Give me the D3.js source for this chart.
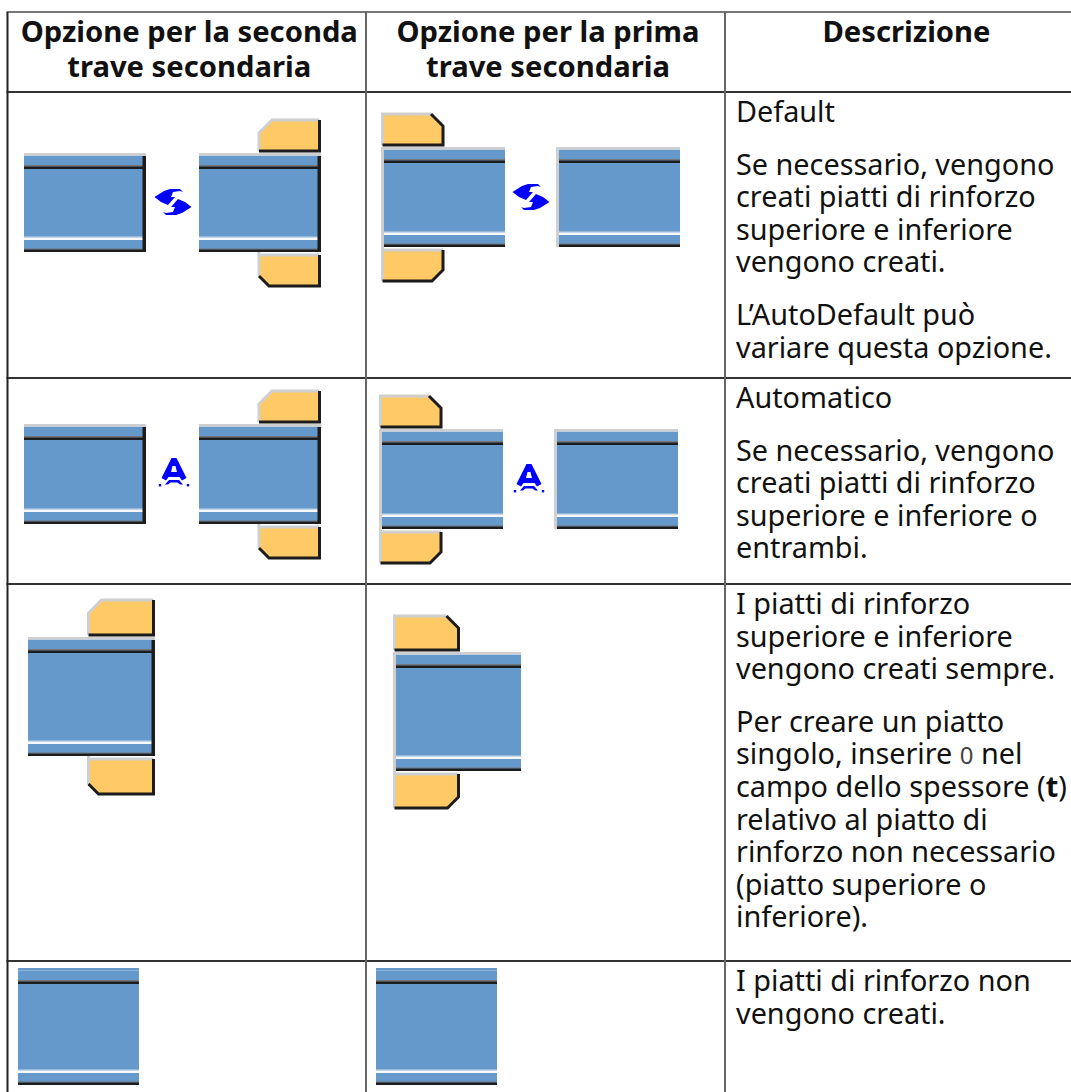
<!DOCTYPE html>
<html>
<head>
<meta charset="utf-8">
<script src="https://cdnjs.cloudflare.com/ajax/libs/d3/7.8.5/d3.min.js"></script>
<style>
  html, body { margin: 0; padding: 0; background: #fff; overflow: hidden; }
  svg { display: block; }
  text { font-family: "Noto Sans", sans-serif; fill: #111; }
</style>
</head>
<body>
<div id="my_dataviz"></div>
<script>
// table content
var headers = [
  ["Opzione per la seconda", "trave secondaria"],
  ["Opzione per la prima", "trave secondaria"],
  ["Descrizione"]
];
// *x* marks bold, `x` marks code
var descDefault = [
  ["Default"],
  ["Se necessario, vengono", "creati piatti di rinforzo", "superiore e inferiore", "vengono creati."],
  ["L\u2019AutoDefault può", "variare questa opzione."]
];
var descAuto = [
  ["Automatico"],
  ["Se necessario, vengono", "creati piatti di rinforzo", "superiore e inferiore o", "entrambi."]
];
var descAlways = [
  ["I piatti di rinforzo", "superiore e inferiore", "vengono creati sempre."],
  ["Per creare un piatto", "singolo, inserire `0` nel", "campo dello spessore (*t*)", "relativo al piatto di", "rinforzo non necessario", "(piatto superiore o", "inferiore)."]
];
var descNever = [
  ["I piatti di rinforzo non", "vengono creati."]
];
var descriptions = [descDefault, descAuto, descAlways, descNever];

// layout
var W = 1071, H = 1092;
var col = d3.scaleLinear().domain([0, 1, 2, 3]).range([7.5, 366, 725, 1083]);
var row = d3.scaleLinear().domain([0, 1, 2, 3, 4, 5]).range([12, 92, 378, 584, 961, 1110]);

var svg = d3.select("#my_dataviz").append("svg")
  .attr("width", W)
  .attr("height", H);

var defs = svg.append("defs");
defs.append("filter").attr("id", "soft")
  .attr("x", "-5%").attr("y", "-5%").attr("width", "110%").attr("height", "110%")
  .append("feGaussianBlur").attr("stdDeviation", 0.45);

// grid
d3.range(0, 6).forEach(function(i) {
  svg.append("line")
    .attr("x1", col(0) - 1).attr("x2", W)
    .attr("y1", row(i)).attr("y2", row(i))
    .attr("stroke", i == 0 ? "#777" : "#333")
    .attr("stroke-width", 2);
});
d3.range(0, 3).forEach(function(i) {
  svg.append("line")
    .attr("x1", col(i)).attr("x2", col(i))
    .attr("y1", row(0)).attr("y2", H)
    .attr("stroke", i == 0 ? "#222" : "#666")
    .attr("stroke-width", 2);
});

// headers
headers.forEach(function(lines, c) {
  lines.forEach(function(t, i) {
    svg.append("text")
      .attr("x", (col(c) + col(c + 1)) / 2 + 2.5)
      .attr("y", 42 + i * 35)
      .attr("text-anchor", "middle")
      .attr("font-size", 29.2)
      .attr("font-weight", 700)
      .text(t);
  });
});

// descriptions
var lineH = 32.6, paraGap = 20;
descriptions.forEach(function(paras, r) {
  var y = row(r + 1) + 30;
  paras.forEach(function(lines) {
    lines.forEach(function(t) {
      var txt = svg.append("text").attr("x", 736).attr("y", y).attr("font-size", 28.8);
      t.split(/(\*[^*]+\*|`[^`]+`)/).forEach(function(s) {
        if (!s) return;
        if (s[0] == "*") {
          txt.append("tspan").attr("font-weight", 700).text(s.slice(1, -1));
        } else if (s[0] == "`") {
          txt.append("tspan").attr("font-size", 24).attr("fill", "#444").text(s.slice(1, -1));
        } else {
          txt.append("tspan").text(s);
        }
      });
      y += lineH;
    });
    y += paraGap;
  });
});

// beam drawing
var blue = "#6598cb", yellow = "#ffc966", dark = "#1c1c1c", light = "#cfcfcf";

function beam(g, x, y, w, h, hand) {
  var mid = g.append("g");
  function bar(bx, by, bw, bh, fill) {
    mid.append("rect").attr("x", bx).attr("y", by).attr("width", bw).attr("height", bh).attr("fill", fill);
  }
  bar(x, y + 2.5, w, h - 2.5, blue);
  // flange lines
  bar(x, y + 12, w, 1.5, "#777");
  bar(x, y + 13.5, w, 2.5, dark);
  bar(x, y + h - 15.5, w, 1, "#c4d6e8");
  bar(x, y + h - 14.5, w, 2.5, "#f6f8fa");
  bar(x, y + h - 3.5, w, 1, "#777");
  bar(x, y + h - 2.5, w, 2.5, dark);
  if (hand == "left") {
    bar(x, y, w, 2.5, light);
    bar(x + w - 3.5, y + 3, 3.5, h - 3, dark);
  } else if (hand == "right") {
    bar(x, y, w, 2.5, light);
    bar(x - 3, y, 3, h, light);
  } else {
    bar(x, y, w, 2.5, blue);
  }
}

function plate(g, x, y, w, h, corner, c) {
  var r = x + w, b = y + h;
  var lit = [], shade = [];
  if (corner == "bl") {
    shade = [[r, y], [r, b], [x + c, b], [x, b - c]];
    lit = [[x, b - c]];
  } else if (corner == "br") {
    shade = [[r, y], [r, b - c], [r - c, b], [x, b]];
    lit = [[x, b]];
  } else {
    shade = [[r, b], [x, b]];
    lit = [[x, b]];
  }
  if (corner == "tl") {
    lit.push([x, y + c], [x + c, y]);
  } else {
    lit.push([x, y]);
  }
  if (corner == "tr") {
    lit.push([r - c, y]);
    shade = [[r - c, y], [r, y + c]].concat(shade);
  } else {
    lit.push([r, y]);
    if (corner != "bl" && corner != "br") shade = [[r, y]].concat(shade);
  }
  var line = d3.line();
  g.append("path").attr("d", line(lit.concat(shade)) + "Z").attr("fill", yellow);
  g.append("path").attr("d", line(lit)).attr("fill", "none").attr("stroke", light).attr("stroke-width", 3);
  g.append("path").attr("d", line(shade)).attr("fill", "none").attr("stroke", dark).attr("stroke-width", 3);
}

function swapIcon(g, cx, cy) {
  var half = [[-18.5, -5], [-9, -11], [-3, -13], [7, -13], [10, -10], [7, -11], [0, -10], [-2, -5], [2, -5], [-5, 3], [-12, 0]];
  var line = d3.line();
  var ic = g.append("g").attr("transform", "translate(" + cx + "," + cy + ")").attr("fill", "#0000ff");
  ic.append("path").attr("d", line(half) + "Z");
  ic.append("path").attr("d", line(half) + "Z").attr("transform", "rotate(180)");
}

function autoIcon(g, cx, cy) {
  var ic = g.append("g").attr("transform", "translate(" + cx + "," + cy + ")").attr("fill", "#0000ff");
  ic.append("path").attr("fill-rule", "evenodd")
    .attr("d", "M-2.5,-14H2.5L12.5,6L8,8.5L5.5,5H-5.5L-8,8.5L-12.5,6ZM-1.5,-6L-3,0H3L1.5,-6Z");
  ic.append("path").attr("d", "M-9,12.5L-5,8H5L9,12.5H6L3.5,10.5H-3.5L-6,12.5Z");
  [-14, 14].forEach(function(dx) {
    ic.append("rect").attr("x", dx - 1.2).attr("y", 12).attr("width", 2.4).attr("height", 2.4);
  });
}

// beam with its plates, plate size differs between the rows
function plated(g, x, y, w, h, hand, pw, ph) {
  beam(g, x, y, w, h, hand);
  if (hand == "left") {
    plate(g, x + w - pw - 1.5, y - ph - 2, pw, ph, "tl", 13);
    plate(g, x + w - pw - 1.5, y + h + 3, pw, ph, "bl", 10);
    // light return beside the flange of the lower plate
    g.append("rect").attr("x", x + w - pw - 3).attr("y", y + h).attr("width", 3).attr("height", 4).attr("fill", light);
  } else {
    plate(g, x - 1.5, y - ph - 2, pw, ph, "tr", 12);
    plate(g, x - 1.5, y + h + 3, pw, ph, "br", 11);
    g.append("rect").attr("x", x - 3).attr("y", y + h).attr("width", 3).attr("height", 4).attr("fill", light);
  }
}

var icons = svg.append("g").attr("filter", "url(#soft)");

// row 1
beam(icons, 24, 153, 122, 99, "left");
plated(icons, 199, 153, 122, 99, "left", 60.5, 31);
swapIcon(icons, 173, 202);
plated(icons, 384, 147, 121, 100, "right", 60.5, 31);
beam(icons, 559, 147, 121, 100, "right");
swapIcon(icons, 531, 197);

// row 2
beam(icons, 24, 424, 122, 100, "left");
plated(icons, 199, 424, 122, 100, "left", 60.5, 31);
autoIcon(icons, 174, 472);
plated(icons, 382, 429, 121, 100, "right", 60.5, 31);
beam(icons, 557, 429, 121, 100, "right");
autoIcon(icons, 529, 478);

// row 3
plated(icons, 28, 637, 127, 119, "left", 65, 35);
plated(icons, 396, 652, 125, 119, "right", 64, 34);

// row 4
var flat = svg.append("g");
beam(flat, 18, 968, 121, 117, "none");
beam(flat, 376, 968, 121, 117, "none");
</script>
</body>
</html>
